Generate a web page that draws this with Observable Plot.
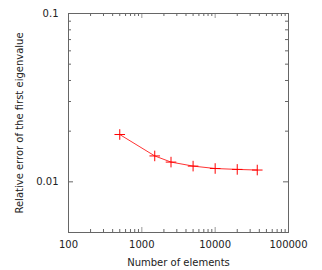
<!DOCTYPE html>
<html><head><meta charset="utf-8">
<script src="https://cdn.jsdelivr.net/npm/d3@7"></script>
<script src="https://cdn.jsdelivr.net/npm/@observablehq/plot@0.6"></script>
<style>body{margin:0;background:#fff}</style>
</head><body><div id="chart"></div>
<script>
const elements = [500, 1500, 2500, 5000, 10000, 20000, 37500];
const relError = [0.0191, 0.01425, 0.0131, 0.0124, 0.0120, 0.01185, 0.01175];
const xMajor = [100, 1000, 10000, 100000];
const xMajorLabels = ["100", "1000", "10000", "100000"];
const xMinor = [200,300,400,500,600,700,800,900,2000,3000,4000,5000,6000,7000,8000,9000,20000,30000,40000,50000,60000,70000,80000,90000];
const yMajor = [0.01, 0.1];
const yMajorLabels = ["0.01", "0.1"];
const yMinor = [0.02,0.03,0.04,0.05,0.06,0.07,0.08,0.09];

const data = elements.map((x, i) => ({x, y: relError[i]}));
const xLab = xMajor.map((v, i) => ({v, t: xMajorLabels[i]}));
const yLab = yMajor.map((v, i) => ({v, t: yMajorLabels[i]}));
const H = 219, W = 220;
const frameColor = "#666";
const txt = "#222";
const chart = Plot.plot({
  width: 322, height: 270,
  marginLeft: 68, marginRight: 34, marginTop: 13, marginBottom: 38,
  style: {fontFamily: "DejaVu Sans", fontSize: "10px", color: txt, background: "white"},
  x: {type: "log", domain: [100, 100000], axis: null},
  y: {type: "log", domain: [0.005, 0.1], axis: null},
  marks: [
    Plot.ruleX(xMinor, {insetTop: H - 3, stroke: frameColor}),
    Plot.ruleX(xMinor, {insetBottom: H - 3, stroke: frameColor}),
    Plot.ruleX(xMajor, {insetTop: H - 5, stroke: "#999"}),
    Plot.ruleX(xMajor, {insetBottom: H - 5, stroke: "#999"}),
    Plot.ruleY(yMinor, {insetRight: W - 3, stroke: frameColor}),
    Plot.ruleY(yMinor, {insetLeft: W - 3, stroke: frameColor}),
    Plot.ruleY(yMajor, {insetRight: W - 5, stroke: frameColor}),
    Plot.ruleY(yMajor, {insetLeft: W - 5, stroke: frameColor}),
    Plot.frame({stroke: frameColor, strokeWidth: 1}),
    Plot.text(xLab, {x: "v", text: "t", frameAnchor: "bottom", lineAnchor: "top", dy: 8, fontSize: 10, fill: txt}),
    Plot.text(yLab, {y: "v", text: "t", frameAnchor: "left", textAnchor: "end", dx: -10, fontSize: 10, fill: txt}),
    Plot.text(["Number of elements"], {frameAnchor: "bottom", lineAnchor: "middle", dy: 30, fontSize: 10, fill: txt}),
    Plot.text(["Relative error of the first eigenvalue"], {frameAnchor: "left", textAnchor: "middle", dx: -49, rotate: -90, fontSize: 10, fill: txt}),
    Plot.line(data, {x: "x", y: "y", stroke: "#ff0000", strokeWidth: 1, strokeOpacity: 0.8}),
    Plot.dot(data, {x: "x", y: "y", symbol: "plus", r: 3.5, stroke: "#ff0000", strokeWidth: 1})
  ]
});
document.getElementById("chart").append(chart);
</script></body></html>
